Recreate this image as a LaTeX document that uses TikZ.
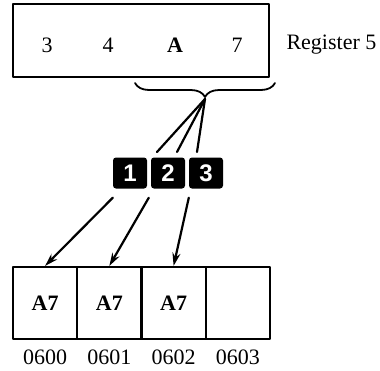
\documentclass[tikz,border=0pt]{standalone}
\usepackage{fontspec}
\setmainfont{Liberation Serif}
\newfontfamily\badgefont{Liberation Sans}
\usetikzlibrary{arrows.meta,decorations.pathreplacing}
\begin{document}
\begin{tikzpicture}[x=1pt, y=-1pt, line join = round, line cap = round,
  every node/.style={font=\fontsize{22}{26}\selectfont},
  cell/.style={draw, line width=2.2pt, minimum width=64.25pt, minimum height=72pt, inner sep=0pt, font=\fontsize{22}{26}\selectfont\bfseries},
  badge/.style={fill=black, rounded corners=3pt, minimum width=34pt, minimum height=31pt, inner sep=0pt, text=white, font=\fontsize{24}{26}\badgefont\bfseries},
  link/.style={line width=2.2pt},
  arr/.style={line width=2.2pt, -{Stealth[length=13pt, width=8pt]}}]
\useasboundingbox (0,0) rectangle (380,370);

% register 5
\draw[line width=2.2pt] (13,4) rectangle (269,77);
\node (r1) at (47,45) {3};
\node (r2) at (108,45) {4};
\node[font=\fontsize{22}{26}\selectfont\bfseries] (r3) at (175,45) {A};
\node (r4) at (237,45) {7};
\node[anchor=west] (reg) at (283,45) {Register 5};
\draw[line width=1.8pt, decorate, decoration={brace, mirror, amplitude=14pt}] (135,83) -- (275,83);
\coordinate (tip) at (205,99);

% badges
\node[badge] (b1) at (130,173) {1};
\node[badge] (b2) at (168,173) {2};
\node[badge] (b3) at (206,173) {3};
\coordinate (t1) at (157,152);
\coordinate (t2) at (177,152);
\coordinate (t3) at (197,152);
\foreach \i in {1,2,3}
  \draw[link] (tip) -- (t\i);

% memory locations
\foreach \i/\a/\v in {0/0600/A7, 1/0601/A7, 2/0602/A7, 3/0603/{}}{
  \node[cell] (m\i) at (45.1+64.25*\i,303) {\v};
  \node (a\i) at (45.1+64.25*\i,357) {\a};
}

\draw[arr] ([yshift=-9pt]b1.south west) -- (m0.north);
\draw[arr] ([xshift=-2pt, yshift=-9pt]b2.south west) -- (m1.north);
\draw[arr] ([yshift=-9pt]b3.south west) -- (m2.north);
\end{tikzpicture}
\end{document}
